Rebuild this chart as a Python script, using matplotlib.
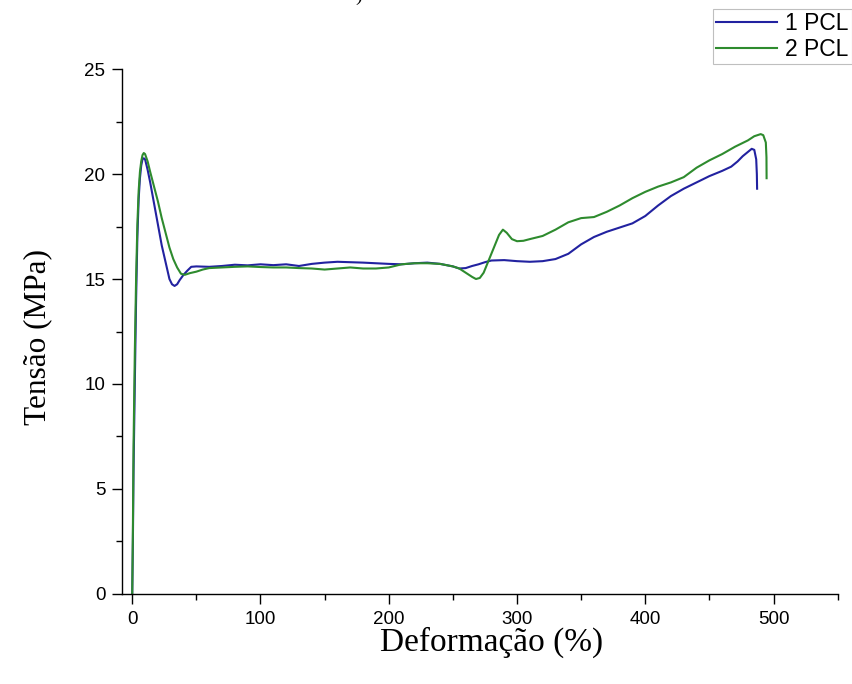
import matplotlib
matplotlib.use('Agg')
import matplotlib.pyplot as plt
from matplotlib.ticker import MultipleLocator

# curva tensão x deformação, amostra 1 PCL
def_1 = [0, 0.5, 1, 2, 3, 4, 5, 6, 7, 8, 9, 10, 12, 14, 17, 20, 23, 26, 29, 31,
         33, 35, 37, 40, 43, 46, 50, 60, 70, 80, 90, 100, 110, 120, 130, 140,
         150, 160, 170, 180, 190, 200, 210, 220, 230, 240, 250, 255, 260, 265,
         270, 275, 280, 290, 300, 310, 320, 330, 340, 350, 360, 370, 380, 390,
         400, 410, 420, 430, 440, 450, 460, 467, 472, 476, 480, 483, 485, 486.5,
         487, 487.2]
ten_1 = [0, 2.5, 5.8, 10, 14, 17, 18.8, 19.8, 20.4, 20.7, 20.75, 20.7, 20.2,
         19.6, 18.6, 17.6, 16.6, 15.8, 15.0, 14.75, 14.67, 14.75, 14.95, 15.2,
         15.4, 15.58, 15.6, 15.58, 15.62, 15.68, 15.65, 15.7, 15.66, 15.7, 15.62,
         15.72, 15.78, 15.82, 15.8, 15.78, 15.75, 15.72, 15.7, 15.75, 15.78,
         15.72, 15.6, 15.5, 15.52, 15.62, 15.7, 15.8, 15.88, 15.9, 15.85, 15.82,
         15.85, 15.95, 16.2, 16.65, 17.0, 17.25, 17.45, 17.65, 18.0, 18.5,
         18.95, 19.3, 19.6, 19.9, 20.15, 20.35, 20.6, 20.85, 21.05, 21.2, 21.15,
         20.7, 20.0, 19.3]

# curva tensão x deformação, amostra 2 PCL
def_2 = [0, 0.5, 1, 2, 3, 4, 5, 6, 7, 8, 9, 10, 12, 14, 17, 20, 23, 26, 29, 32,
         35, 38, 41, 45, 50, 55, 60, 70, 80, 90, 100, 110, 120, 130, 140, 150,
         160, 170, 180, 190, 200, 210, 220, 230, 240, 250, 255, 260, 265, 268,
         271, 274, 278, 282, 286, 289, 292, 296, 300, 305, 310, 320, 330, 340,
         350, 360, 370, 380, 390, 400, 410, 420, 430, 440, 450, 460, 470, 480,
         485, 490, 492, 494, 494.5, 494.6]
ten_2 = [0, 3, 7, 11.5, 15, 17.6, 19.2, 20.1, 20.6, 20.9, 21.0, 20.95, 20.6,
         20.1, 19.4, 18.7, 17.9, 17.2, 16.5, 15.95, 15.55, 15.25, 15.2, 15.28,
         15.35, 15.45, 15.52, 15.55, 15.58, 15.6, 15.57, 15.55, 15.55, 15.52,
         15.5, 15.45, 15.5, 15.55, 15.5, 15.5, 15.55, 15.7, 15.75, 15.75, 15.72,
         15.6, 15.5, 15.3, 15.1, 15.0, 15.05, 15.3, 15.9, 16.5, 17.1, 17.35,
         17.2, 16.9, 16.8, 16.82, 16.9, 17.05, 17.35, 17.7, 17.9, 17.95, 18.2,
         18.5, 18.85, 19.15, 19.4, 19.6, 19.85, 20.3, 20.65, 20.95, 21.3, 21.6,
         21.8, 21.9, 21.85, 21.5, 20.8, 19.8]

fig = plt.figure(figsize=(8.53, 6.84), dpi=100)
ax = fig.add_axes([0.143, 0.1316, 0.839, 0.7675])

ax.plot(def_1, ten_1, color='#2222a0', lw=1.5, label='1 PCL')
ax.plot(def_2, ten_2, color='#2e8b2e', lw=1.5, label='2 PCL')

ax.set_xlim(-8, 550)
ax.set_ylim(0, 25)
ax.spines['top'].set_visible(False)
ax.spines['right'].set_visible(False)
for s in ('left', 'bottom'):
    ax.spines[s].set_linewidth(1.0)

ax.xaxis.set_major_locator(MultipleLocator(100))
ax.xaxis.set_minor_locator(MultipleLocator(50))
ax.yaxis.set_major_locator(MultipleLocator(5))
ax.yaxis.set_minor_locator(MultipleLocator(2.5))
ax.tick_params(which='major', direction='out', length=7, width=1.0,
               labelsize=13.5, pad=5)
ax.tick_params(which='minor', direction='out', length=4, width=1.0)
for lab in ax.get_xticklabels() + ax.get_yticklabels():
    lab.set_family('Liberation Sans')

ax.set_xlabel('Deformação (%)', family='Liberation Serif', fontsize=24)
ax.set_ylabel('Tensão (MPa)', family='Liberation Serif', fontsize=22.5)
ax.xaxis.set_label_coords(0.517, -0.063)
ax.yaxis.set_label_coords(-0.097, 0.49)

leg = fig.legend(loc='upper left', bbox_to_anchor=(713 / 853, 1 - 9 / 684),
                 prop={'family': 'Liberation Sans', 'size': 16.5},
                 handlelength=2.65, handletextpad=0.35, labelspacing=0.1,
                 borderpad=0.15, borderaxespad=0, fancybox=False)
leg.get_frame().set_edgecolor('#b0b0b0')
leg.get_frame().set_linewidth(0.8)

fig.text(359 / 853, 1.006, ')', family='Liberation Serif', fontsize=14,
         ha='center', va='center')

fig.savefig('out.png', dpi=100)
